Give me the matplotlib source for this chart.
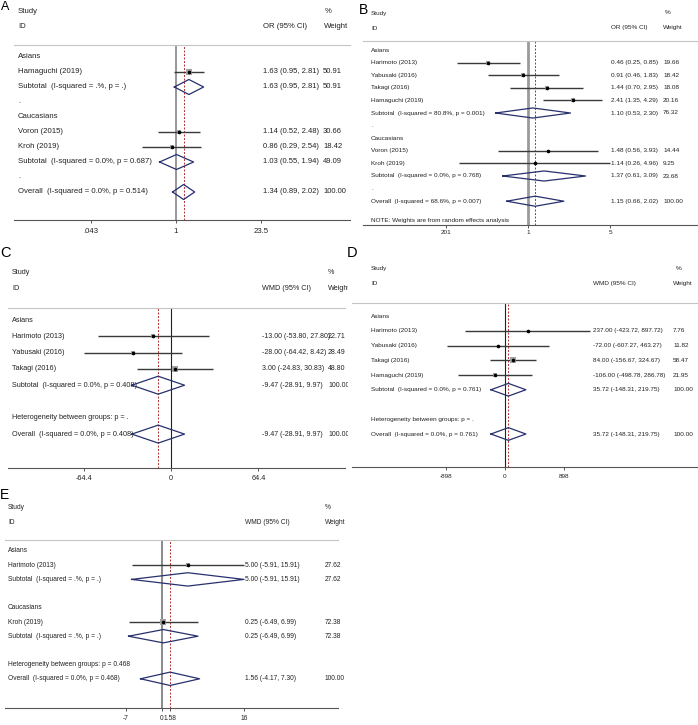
import matplotlib
matplotlib.use("Agg")
import matplotlib.pyplot as plt
import matplotlib.transforms as mtransforms
import numpy as np

plt.rcParams["font.family"] = ["Liberation Sans", "DejaVu Sans"]

W, H = 698, 725

# Panel A : OR
A_labels = ["Asians", "Hamaguchi (2019)", "Subtotal  (I-squared = .%, p = .)", ".",
            "Caucasians", "Voron (2015)", "Kroh (2019)",
            "Subtotal  (I-squared = 0.0%, p = 0.687)", ".",
            "Overall  (I-squared = 0.0%, p = 0.514)"]
A_kind = ["g", "s", "sub", "t", "g", "s", "s", "sub", "t", "all"]
A_est = [None, 1.63, 1.63, None, None, 1.14, 0.86, 1.03, None, 1.34]
A_lo = [None, 0.95, 0.95, None, None, 0.52, 0.29, 0.55, None, 0.89]
A_hi = [None, 2.81, 2.81, None, None, 2.48, 2.54, 1.94, None, 2.02]
A_wt = [None, 50.91, 50.91, None, None, 30.66, 18.42, 49.09, None, 100.00]
A_ticks = [0.043, 1, 23.5]
A_ticklabels = [".043", "1", "23.5"]

# Panel B : OR
B_labels = ["Asians", "Harimoto (2013)", "Yabusaki (2016)", "Takagi (2016)", "Hamaguchi (2019)",
            "Subtotal  (I-squared = 80.8%, p = 0.001)", ".",
            "Caucasians", "Voron (2015)", "Kroh (2019)",
            "Subtotal  (I-squared = 0.0%, p = 0.768)", ".",
            "Overall  (I-squared = 68.6%, p = 0.007)"]
B_kind = ["g", "s", "s", "s", "s", "sub", "t", "g", "s", "s", "sub", "t", "all"]
B_est = [None, 0.46, 0.91, 1.44, 2.41, 1.10, None, None, 1.48, 1.14, 1.37, None, 1.15]
B_lo = [None, 0.25, 0.46, 0.70, 1.35, 0.53, None, None, 0.56, 0.26, 0.61, None, 0.66]
B_hi = [None, 0.85, 1.83, 2.95, 4.29, 2.30, None, None, 3.93, 4.96, 3.09, None, 2.02]
B_wt = [None, 19.66, 18.42, 18.08, 20.16, 76.32, None, None, 14.44, 9.25, 23.68, None, 100.00]
B_ticks = [0.201, 1, 5]
B_ticklabels = ["201", "1", "5"]
B_note = "NOTE: Weights are from random effects analysis"

# Panel C : WMD
C_labels = ["Asians", "Harimoto (2013)", "Yabusaki (2016)", "Takagi (2016)",
            "Subtotal  (I-squared = 0.0%, p = 0.408)", "",
            "Heterogeneity between groups: p = .",
            "Overall  (I-squared = 0.0%, p = 0.408)"]
C_kind = ["g", "s", "s", "s", "sub", "t", "t", "all"]
C_est = [None, -13.00, -28.00, 3.00, -9.47, None, None, -9.47]
C_lo = [None, -53.80, -64.42, -24.83, -28.91, None, None, -28.91]
C_hi = [None, 27.80, 8.42, 30.83, 9.97, None, None, 9.97]
C_wt = [None, 22.71, 28.49, 48.80, 100.00, None, None, 100.00]
C_ticks = [-64.4, 0, 64.4]
C_ticklabels = ["-64.4", "0", "64.4"]

# Panel D : WMD
D_labels = ["Asians", "Harimoto (2013)", "Yabusaki (2016)", "Takagi (2016)", "Hamaguchi (2019)",
            "Subtotal  (I-squared = 0.0%, p = 0.761)", "",
            "Heterogeneity between groups: p = .",
            "Overall  (I-squared = 0.0%, p = 0.761)"]
D_kind = ["g", "s", "s", "s", "s", "sub", "t", "t", "all"]
D_est = [None, 237.00, -72.00, 84.00, -106.00, 35.72, None, None, 35.72]
D_lo = [None, -423.72, -607.27, -156.67, -498.78, -148.31, None, None, -148.31]
D_hi = [None, 897.72, 463.27, 324.67, 286.78, 219.75, None, None, 219.75]
D_wt = [None, 7.76, 11.82, 58.47, 21.95, 100.00, None, None, 100.00]
D_ticks = [-616, 0, 616]
D_ticklabels = ["-898", "0", "898"]

# Panel E : WMD
E_labels = ["Asians", "Harimoto (2013)", "Subtotal  (I-squared = .%, p = .)", "",
            "Caucasians", "Kroh (2019)", "Subtotal  (I-squared = .%, p = .)", "",
            "Heterogeneity between groups: p = 0.468",
            "Overall  (I-squared = 0.0%, p = 0.468)"]
E_kind = ["g", "s", "sub", "t", "g", "s", "sub", "t", "t", "all"]
E_est = [None, 5.00, 5.00, None, None, 0.25, 0.25, None, None, 1.56]
E_lo = [None, -5.91, -5.91, None, None, -6.49, -6.49, None, None, -4.17]
E_hi = [None, 15.91, 15.91, None, None, 6.99, 6.99, None, None, 7.30]
E_wt = [None, 27.62, 27.62, None, None, 72.38, 72.38, None, None, 100.00]
E_ticks = [-7, 0, 1.58, 16]
E_ticklabels = ["-7", "0", "1.58", "16"]

TXT = "#222222"
NAVY = "#28306e"
RED = "#b03030"

fig = plt.figure(figsize=(W / 100, H / 100), dpi=100)


def forest(lay, eff, labels, kinds, est, lo, hi, wt, ticks, ticklabels, note=None):
    ax = fig.add_axes([lay["left"] / W, 1 - lay["bottom"] / H,
                       (lay["right"] - lay["left"]) / W, (lay["bottom"] - lay["top"]) / H])
    ax.set_ylim((lay["bottom"] - lay["y0"]) / lay["dy"], (lay["top"] - lay["y0"]) / lay["dy"])
    xa = (lay["left"] - lay["x0"]) / lay["k"]
    xb = (lay["right"] - lay["x0"]) / lay["k"]
    if lay["log"]:
        ax.set_xscale("log")
        ax.set_xlim(np.exp(xa), np.exp(xb))
        null = 1
    else:
        ax.set_xlim(xa, xb)
        null = 0
    ax.minorticks_off()
    for s in ["left", "right"]:
        ax.spines[s].set_visible(False)
    ax.spines["top"].set_color("#c4c4c4")
    ax.spines["top"].set_linewidth(0.8)
    ax.spines["bottom"].set_color("#555555")
    ax.spines["bottom"].set_linewidth(0.8)
    ax.set_yticks([])
    ax.set_xticks(ticks)
    ax.set_xticklabels(ticklabels)
    ax.tick_params(axis="x", length=2.5, width=0.7, color="#555555", pad=lay["pad"],
                   labelsize=lay["fs"], labelcolor=TXT)
    ax.patch.set_alpha(0)

    fs = lay["fs"]
    blend = mtransforms.blended_transform_factory(fig.transFigure, ax.transData)
    clip = mtransforms.TransformedBbox(
        mtransforms.Bbox.from_extents(lay["clip"][0] / W, 0, lay["clip"][1] / W, 1), fig.transFigure)

    def txt(xp, row, s, size=fs):
        t = ax.text(xp / W, row, s, transform=blend, fontsize=size, color=TXT,
                    ha="left", va="center", clip_on=True)
        t.set_clip_path(None)
        t.set_clip_box(clip)

    def row_of(yp):
        return (yp - lay["y0"]) / lay["dy"]

    # en-têtes
    txt(lay["lab_x"], row_of(lay["head"][0]), "Study")
    txt(lay["lab_x"], row_of(lay["head"][1]), "ID")
    txt(lay["pct_x"], row_of(lay["head"][0]), "%")
    txt(lay["ci_x"], row_of(lay["head"][1]), eff + " (95% CI)")
    txt(lay["wh_x"], row_of(lay["head"][1]), "Weight")

    ax.axvline(null, color=lay["null_c"], lw=lay["null_lw"], zorder=1)
    ov = est[kinds.index("all")]
    ax.axvline(ov, color=RED, lw=0.7, ls=(0, (2, 1.6)), zorder=1)

    h = lay["diam"]
    for i, lab in enumerate(labels):
        txt(lay["lab_x"], i, lab)
        if est[i] is None:
            continue
        txt(lay["ci_x"], i, f"{est[i]:.2f} ({lo[i]:.2f}, {hi[i]:.2f})", lay["nfs"])
        txt(lay["wt_x"], i, f"{wt[i]:.2f}", lay["nfs"])
        if kinds[i] == "s":
            ax.plot([lo[i], hi[i]], [i, i], color="#3a3a3a", lw=1.0, zorder=2,
                    solid_capstyle="butt")
            ax.scatter([est[i]], [i], s=lay["box"] * wt[i], marker="s", color="#a2a2a2",
                       linewidths=0, zorder=3)
            ax.plot([est[i]], [i], "o", ms=1.6, color="black", zorder=4)
        else:
            ax.plot([lo[i], est[i], hi[i], est[i], lo[i]], [i, i - h, i, i + h, i],
                    color=NAVY, lw=0.9, zorder=3)
    if note:
        txt(lay["lab_x"], len(labels) + 0.5, note)

    fig.text(lay["letter"][0] / W, 1 - lay["letter"][1] / H, lay["letter"][2],
             fontsize=lay["lfs"], color="black", ha="left", va="center")


lay_A = dict(left=14, right=350, top=45, bottom=220, y0=57, dy=15, x0=175.7, k=27, log=True,
             fs=5.6, nfs=5.5, pad=3, lab_x=18, ci_x=263, wt_x=323, pct_x=325, wh_x=324,
             head=(12, 27), null_c="#858585", null_lw=1.2, diam=0.5, box=0.3, clip=(0, 350),
             letter=(1, 7, "A"), lfs=9)
lay_B = dict(left=363, right=698, top=41, bottom=225, y0=50, dy=12.6, x0=528, k=51, log=True,
             fs=4.6, nfs=4.6, pad=1.2, lab_x=371, ci_x=611, wt_x=663, pct_x=665, wh_x=663,
             head=(13, 28), null_c="#9a9a9a", null_lw=2.0, diam=0.4, box=0.3, clip=(350, 698),
             letter=(359, 10, "B"), lfs=10)
lay_C = dict(left=8, right=345, top=308, bottom=468, y0=320, dy=16.3, x0=171, k=1.356, log=False,
             fs=5.2, nfs=5.05, pad=2.2, lab_x=12, ci_x=262, wt_x=328, pct_x=328, wh_x=328,
             head=(272, 288), null_c="#222222", null_lw=0.8, diam=0.55, box=0.3, clip=(0, 348),
             letter=(0, 253, "C"), lfs=10.5)
lay_D = dict(left=352, right=698, top=303, bottom=467, y0=316, dy=14.75, x0=505, k=0.095, log=False,
             fs=4.6, nfs=4.6, pad=2.2, lab_x=371, ci_x=593, wt_x=673, pct_x=676, wh_x=673,
             head=(268, 283), null_c="#222222", null_lw=0.8, diam=0.43, box=0.3, clip=(350, 698),
             letter=(347, 253, "D"), lfs=10.5)
lay_E = dict(left=5, right=338, top=540, bottom=708, y0=551, dy=14.2, x0=162, k=5.15, log=False,
             fs=4.75, nfs=4.75, pad=2.2, lab_x=8, ci_x=245, wt_x=325, pct_x=325, wh_x=325,
             head=(508, 522), null_c="#777777", null_lw=1.2, diam=0.47, box=0.22, clip=(0, 348),
             letter=(0, 495, "E"), lfs=10)

forest(lay_A, "OR", A_labels, A_kind, A_est, A_lo, A_hi, A_wt, A_ticks, A_ticklabels)
forest(lay_B, "OR", B_labels, B_kind, B_est, B_lo, B_hi, B_wt, B_ticks, B_ticklabels, note=B_note)
forest(lay_C, "WMD", C_labels, C_kind, C_est, C_lo, C_hi, C_wt, C_ticks, C_ticklabels)
forest(lay_D, "WMD", D_labels, D_kind, D_est, D_lo, D_hi, D_wt, D_ticks, D_ticklabels)
forest(lay_E, "WMD", E_labels, E_kind, E_est, E_lo, E_hi, E_wt, E_ticks, E_ticklabels)

fig.savefig("out.png", dpi=100)
